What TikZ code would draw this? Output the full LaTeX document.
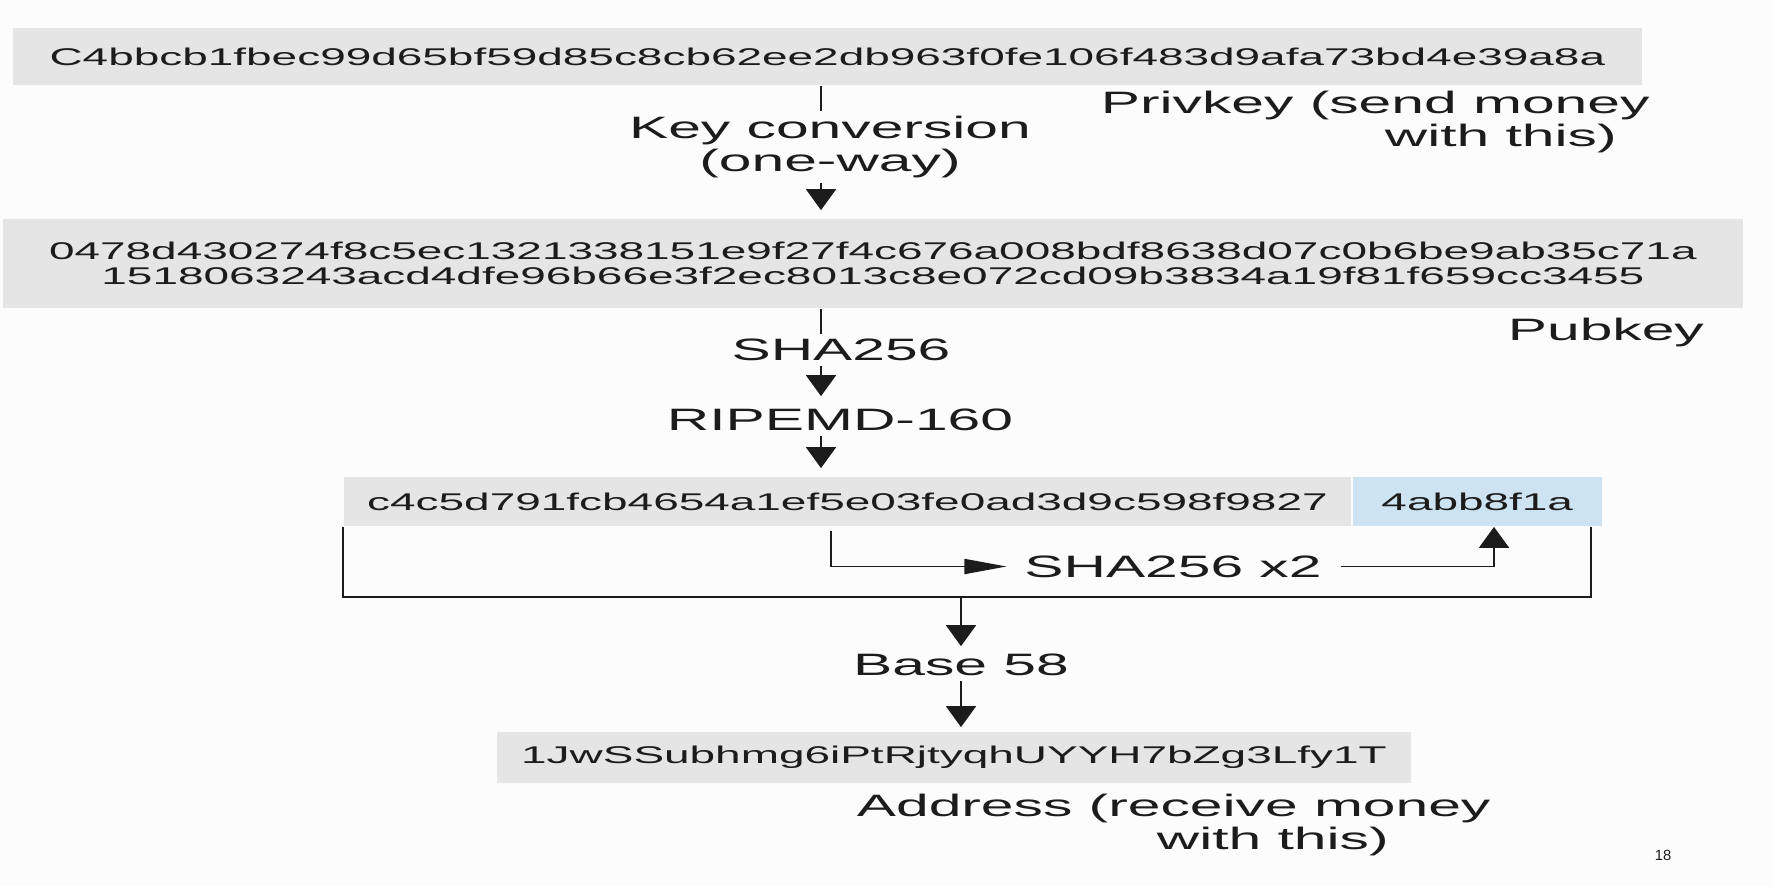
\documentclass[tikz,border=0pt]{standalone}
\usepackage{fontspec}
\setmainfont{Liberation Sans}[FakeStretch=1.9]
\newfontfamily\pagefont{Liberation Sans}
\usetikzlibrary{arrows.meta}
\definecolor{boxgray}{RGB}{229,229,229}
\definecolor{boxblue}{RGB}{206,227,242}
\definecolor{ink}{RGB}{28,28,28}
\definecolor{paper}{RGB}{252,252,252}
\newcommand{\hexsize}{\fontsize{6.88pt}{7.1pt}\selectfont}
\newcommand{\lblsize}{\fontsize{8.8pt}{9.4pt}\selectfont}

\begin{document}
\begin{tikzpicture}[line width=.5pt, color=ink,
    >={Triangle[width=3mm,length=2.1mm]},
    box/.style={fill=boxgray, inner sep=0, font=\hexsize},
    lbl/.style={inner sep=.4mm, font=\lblsize},
    side/.style={inner sep=0, font=\lblsize, align=left},
    harrow/.style={-{Triangle[length=4.2mm,width=1.5mm]}}]
\fill[paper] (0,0) rectangle (17.72,-8.86);
\useasboundingbox (0,0) rectangle (17.72,-8.86);

\coordinate (spine) at (8.21,0);
\coordinate (tap) at (8.31,0);
\coordinate (lift) at (14.94,0);
\coordinate (merge) at (9.61,-5.97);

\node[box, minimum width=16.29cm, minimum height=.57cm] (priv) at (8.275,-.565) {C4bbcb1fbec99d65bf59d85c8cb62ee2db963f0fe106f483d9afa73bd4e39a8a};
\node[box, minimum width=17.4cm, minimum height=.89cm, align=center] (pub) at (8.73,-2.635) {0478d430274f8c5ec1321338151e9f27f4c676a008bdf8638d07c0b6be9ab35c71a\\1518063243acd4dfe96b66e3f2ec8013c8e072cd09b3834a19f81f659cc3455};
\node[box, minimum width=10.07cm, minimum height=.49cm] (hash) at (8.475,-5.015) {c4c5d791fcb4654a1ef5e03fe0ad3d9c598f9827};
\node[box, fill=boxblue, minimum width=2.49cm, minimum height=.49cm, anchor=west] (check) at (hash.east) {4abb8f1a};
\node[box, minimum width=9.14cm, minimum height=.51cm] (addr) at (9.54,-7.575) {1JwSSubhmg6iPtRjtyqhUYYH7bZg3Lfy1T};

\node[lbl, align=center] (keyconv) at (8.30,-1.47) {Key conversion\\(one-way)};
\node[lbl] (shaone) at (8.41,-3.50) {SHA256};
\node[lbl] (ripemd) at (8.40,-4.20) {RIPEMD-160};
\node[lbl] (shatwo) at (11.73,-5.665) {SHA256 x2};
\node[lbl] (basefs) at (9.61,-6.65) {Base 58};

\node[side, anchor=north west] (privlbl) at (11.0,-.90) {Privkey (send money\\\hspace*{2.84cm}with this)};
\node[side, anchor=base west] (publbl) at (15.07,-3.40) {Pubkey};
\node[side, anchor=north west] (addrlbl) at (8.56,-7.93) {Address (receive money\\\hspace*{3.0cm}with this)};
\node[inner sep=0, font=\pagefont\fontsize{4.2pt}{5pt}\selectfont] (pagenum) at (16.63,-8.55) {18};

\draw (priv.south -| spine) -- (keyconv.north -| spine);
\draw[->, shorten >=.8mm] (keyconv.south -| spine) -- (pub.north -| spine);
\draw (pub.south -| spine) -- (shaone.north -| spine);
\draw[->, shorten >=.8mm] (shaone.south -| spine) -- (ripemd.north -| spine);
\draw[->, shorten >=.8mm] (ripemd.south -| spine) -- (hash.north -| spine);

\draw (hash.south west) |- (merge) -| ([xshift=-1.2mm]check.south east);
\draw[harrow, shorten <=.4mm, shorten >=1.3mm] (hash.south -| tap) |- (shatwo.west);
\draw[->, shorten <=1.4mm] (shatwo.east) -| (check.south -| lift);

\draw[->, shorten >=.3mm] (merge) -- (basefs.north);
\draw[->, shorten >=.4mm] (basefs.south) -- (addr.north -| basefs.south);
\end{tikzpicture}
\end{document}
